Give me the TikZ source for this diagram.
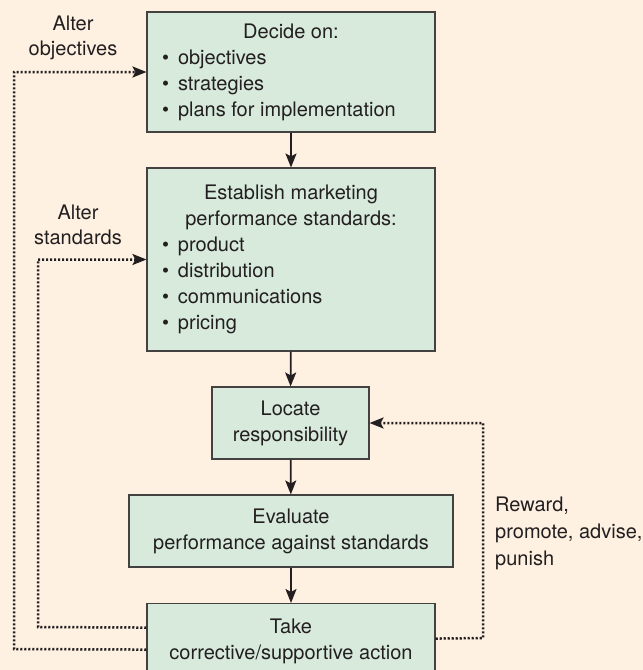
\documentclass[tikz,border=0pt]{standalone}
\usepackage{fontspec}
\setmainfont{TeX Gyre Heros}
\usetikzlibrary{arrows.meta,positioning}
\definecolor{bgc}{HTML}{FEF1E2}
\definecolor{boxc}{HTML}{D7EADC}
\definecolor{ink}{HTML}{231F20}
\newcommand{\bul}{\makebox[16pt][l]{\textbullet}}
\tikzset{
  stagebox/.style={draw=ink!85, line width=1.1pt, fill=boxc, inner xsep=15pt, inner ysep=0pt, align=center, font=\fontsize{20}{26}\selectfont, text=ink},
  flowarrow/.style={draw=ink, line width=1.8pt, -{Stealth[length=14pt,width=11pt,inset=3pt]}},
  loopline/.style={draw=ink, line width=2.5pt, dash pattern=on 2.2pt off 1.8pt},
  looparrow/.style={loopline, -{Stealth[length=14pt,width=11pt,inset=3pt]}},
  sidelabel/.style={font=\fontsize{20}{25}\selectfont, text=ink, inner sep=0pt}
}
\begin{document}
\begin{tikzpicture}[x=1pt,y=-1pt]
\useasboundingbox (0,0) rectangle (643,670);
\clip (0,0) rectangle (643,670);
\fill[bgc] (0,0) rectangle (643,670);

\node[stagebox, minimum width=288pt, minimum height=120pt] (b1) at (291,72)
  {\begin{minipage}{258pt}\centering Decide on:\par\raggedright
   \bul objectives\par \bul strategies\par \bul plans for implementation\end{minipage}};
\node[stagebox, minimum width=288pt, minimum height=183pt] (b2) at (291,259.5)
  {\begin{minipage}{258pt}\centering Establish marketing\par performance standards:\par\raggedright
   \bul product\par \bul distribution\par \bul communications\par \bul pricing\end{minipage}};
\node[stagebox, minimum width=157pt, minimum height=72pt] (b3) at (290.5,423)
  {Locate\\responsibility};
\node[stagebox, minimum width=324pt, minimum height=72pt] (b4) at (291,531)
  {Evaluate\\performance against standards};
\node[stagebox, minimum width=288pt, minimum height=76pt, anchor=north] (b5) at (291,603)
  {Take\\corrective/supportive action};

\draw[flowarrow] (b1) -- (b2);
\draw[flowarrow] (b2) -- (b3);
\draw[flowarrow] (b3) -- (b4);
\draw[flowarrow] (b4) -- (b5);

\coordinate (o1) at (14,649);
\coordinate (o2) at (14,72);
\coordinate (i1) at (38,627);
\coordinate (i2) at (38,259.5);
\coordinate (r1) at (483,638);
\coordinate (r2) at (483,423);

\draw[looparrow] ([yshift=-8pt]b5.west) -- (o1) -- (o2) -- (b1.west);
\draw[looparrow] ([yshift=14pt]b5.west) -- (i1) -- (i2) -- (b2.west);
\draw[looparrow] ([yshift=3pt]b5.east) -- (r1) -- (r2) -- (b3.east);

\node[sidelabel, align=center] (l1) at (73,38) {Alter\\objectives};
\node[sidelabel, align=center] (l2) at (78,225) {Alter\\standards};
\node[sidelabel, align=left, anchor=west, font=\fontsize{20}{27}\selectfont] (l3) at (495,533) {Reward,\\promote, advise,\\punish};
\end{tikzpicture}
\end{document}
